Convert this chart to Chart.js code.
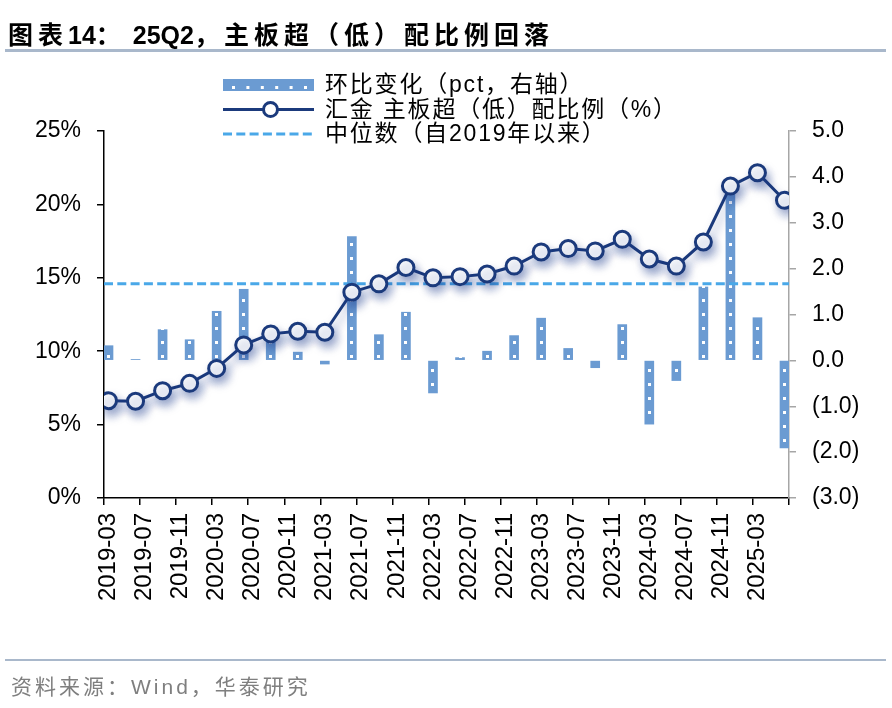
<!DOCTYPE html>
<html>
<head>
<meta charset="utf-8">
<script src="https://cdn.jsdelivr.net/npm/chart.js@4.4.1/dist/chart.umd.min.js"></script>
<style>
  html, body { margin: 0; padding: 0; background: #fff; }
  #wrap { position: relative; width: 892px; height: 708px; overflow: hidden; }
  #chart { position: absolute; left: 0; top: 0; }
  .title { position: absolute; left: 8px; top: 15px; font: bold 25px "Liberation Sans", "Noto Sans CJK SC", sans-serif; color: #000; white-space: nowrap; }
  .title .cjk { letter-spacing: 5px; }
  .rule { position: absolute; left: 5px; width: 881px; background: #a9b8cb; }
  .source { position: absolute; left: 11px; top: 670px; font: 21px "Liberation Sans", "Noto Sans CJK SC", sans-serif; letter-spacing: 3px; color: #7f7f7f; white-space: nowrap; }
</style>
</head>
<body>
<div id="wrap">
  <canvas id="chart" width="892" height="708"></canvas>
  <div class="title"><span class="cjk">图表</span>14<span class="cjk">：</span> 25Q2<span class="cjk">，主板超（低）配比例回落</span></div>
  <div class="rule" style="top:49px;height:3px;"></div>
  <div class="rule" style="top:659px;height:2px;"></div>
  <div class="source">资料来源：Wind，华泰研究</div>
</div>
<script>
// quarterly data, 2019Q1 - 2025Q2
const quarters = ['2019-03', '2019-06', '2019-09', '2019-12', '2020-03', '2020-06', '2020-09', '2020-12',
  '2021-03', '2021-06', '2021-09', '2021-12', '2022-03', '2022-06', '2022-09', '2022-12',
  '2023-03', '2023-06', '2023-09', '2023-12', '2024-03', '2024-06', '2024-09', '2024-12',
  '2025-03', '2025-06'];
// 汇金 主板超（低）配比例, %
const ratioPct = [6.63, 6.59, 7.31, 7.81, 8.83, 10.43, 11.18, 11.36, 11.29, 14.02, 14.59, 15.70,
  15.00, 15.08, 15.26, 15.80, 16.76, 16.99, 16.83, 17.62, 16.28, 15.80, 17.44, 21.25, 22.16, 20.28];
// 环比变化, pct (right axis)
const qoqChange = [0.32, 0.02, 0.67, 0.45, 1.07, 1.55, 0.75, 0.18, -0.08, 2.70, 0.56, 1.05,
  -0.71, 0.06, 0.20, 0.54, 0.92, 0.26, -0.16, 0.78, -1.39, -0.44, 1.60, 3.80, 0.93, -1.91];
// 中位数（自2019年以来）
const medianPct = 14.6;
const xTickLabels = ['2019-03', '2019-07', '2019-11', '2020-03', '2020-07', '2020-11', '2021-03',
  '2021-07', '2021-11', '2022-03', '2022-07', '2022-11', '2023-03', '2023-07', '2023-11',
  '2024-03', '2024-07', '2024-11', '2025-03'];

const seriesNames = ['环比变化（pct，右轴）', '汇金 主板超（低）配比例（%）', '中位数（自2019年以来）'];

const navy = '#1b3a7c';
const barBlue = '#6b9bd2';
const medianBlue = '#4aa8e8';
const latin = '"Liberation Sans", "Noto Sans CJK SC", sans-serif';

// months since 2019-03, the x axis runs on a monthly date scale
const monthIndex = s => (parseInt(s.slice(0, 4)) - 2019) * 12 + parseInt(s.slice(5, 7)) - 3;
const xMin = monthIndex(quarters[0]) - 0.5;
const xMax = monthIndex(quarters[quarters.length - 1]) + 0.5;
const xTickValues = xTickLabels.map(l => monthIndex(l) - 0.5).concat([xMax]);

// bar fill: blue with a column of small white dots
const tile = document.createElement('canvas');
tile.width = 9;
tile.height = 14;
const tc = tile.getContext('2d');
tc.fillStyle = barBlue;
tc.fillRect(0, 0, 9, 14);
tc.fillStyle = '#fff';
tc.fillRect(3, 9, 3, 3);

function barFill(ctx) {
  const chart = ctx.chart;
  if (ctx.type !== 'data' || !chart.scales.x) return barBlue;
  const x = chart.scales.x.getPixelForValue(monthIndex(quarters[ctx.dataIndex]));
  const y0 = chart.scales.y1.getPixelForValue(0);
  const p = chart.ctx.createPattern(tile, 'repeat');
  p.setTransform(new DOMMatrix([1, 0, 0, 1, Math.round(x - 4.5), Math.round(y0)]));
  return p;
}

const lineShadow = {
  id: 'lineShadow',
  beforeDatasetDraw(chart, args) {
    if (args.index !== 1) return;
    const c = chart.ctx;
    c.save();
    c.shadowColor = 'rgba(30, 60, 140, 0.4)';
    c.shadowBlur = 10;
    c.shadowOffsetX = 3;
    c.shadowOffsetY = 6;
  },
  afterDatasetDraw(chart, args) {
    if (args.index === 1) chart.ctx.restore();
  }
};

// legend stacked in three rows above the plot
const stackedLegend = {
  id: 'stackedLegend',
  afterDraw(chart) {
    const c = chart.ctx;
    const x0 = 223, x1 = 314, tx = 325;
    const rows = [85, 109.5, 134];
    c.save();
    // bars
    c.fillStyle = barBlue;
    c.fillRect(x0, rows[0] - 6, x1 - x0, 12);
    c.fillStyle = '#fff';
    for (let i = 0; i < 6; i++) c.fillRect(x0 + 9 + i * 14.4, rows[0] + 1, 3, 3);
    // line with marker
    c.strokeStyle = navy;
    c.lineWidth = 3;
    c.beginPath();
    c.moveTo(x0, rows[1]);
    c.lineTo(x1, rows[1]);
    c.stroke();
    c.fillStyle = '#fff';
    c.beginPath();
    c.arc((x0 + x1) / 2 + 2, rows[1], 7, 0, Math.PI * 2);
    c.fill();
    c.stroke();
    // median
    c.strokeStyle = medianBlue;
    c.setLineDash([9, 4.3]);
    c.beginPath();
    c.moveTo(x0, rows[2]);
    c.lineTo(x1, rows[2]);
    c.stroke();
    c.setLineDash([]);
    // texts
    c.fillStyle = '#000';
    c.font = '23px ' + latin;
    c.letterSpacing = '1.8px';
    c.textBaseline = 'middle';
    c.textAlign = 'left';
    seriesNames.forEach((t, i) => c.fillText(t, tx, rows[i] + 1));
    c.restore();
  }
};

new Chart(document.getElementById('chart'), {
  data: {
    datasets: [
      {
        type: 'bar',
        label: seriesNames[0],
        data: quarters.map((q, i) => ({ x: monthIndex(q), y: qoqChange[i] })),
        yAxisID: 'y1',
        backgroundColor: barFill,
        borderWidth: 0,
        barThickness: 9,
        order: 3
      },
      {
        type: 'line',
        label: seriesNames[1],
        data: quarters.map((q, i) => ({ x: monthIndex(q), y: ratioPct[i] })),
        yAxisID: 'y',
        borderColor: navy,
        borderWidth: 3,
        pointRadius: 8,
        pointBorderWidth: 3,
        pointBackgroundColor: '#fff',
        pointBorderColor: navy,
        tension: 0,
        order: 1
      },
      {
        type: 'line',
        label: seriesNames[2],
        data: [{ x: xMin, y: medianPct }, { x: xMax, y: medianPct }],
        yAxisID: 'y',
        borderColor: medianBlue,
        borderWidth: 3,
        borderDash: [9, 4.3],
        pointRadius: 0,
        order: 2
      }
    ]
  },
  options: {
    responsive: false,
    animation: false,
    layout: { padding: { top: 131, left: 0, right: 0, bottom: 80 } },
    plugins: {
      legend: { display: false },
      title: { display: false },
      tooltip: { enabled: false }
    },
    scales: {
      x: {
        type: 'linear',
        min: xMin,
        max: xMax,
        offset: false,
        afterBuildTicks: axis => { axis.ticks = xTickValues.map(v => ({ value: v })); },
        afterFit: axis => { axis.height = 130; },
        grid: { drawOnChartArea: false, drawTicks: true, tickLength: 7, color: '#000', lineWidth: 1.5, offset: false },
        border: { display: true, color: '#000', width: 1.5 },
        ticks: {
          autoSkip: false,
          minRotation: 90,
          maxRotation: 90,
          padding: 8,
          labelOffset: 4.5,
          color: '#000',
          font: { family: latin, size: 24 },
          callback: (v, i) => xTickLabels[i] || ''
        }
      },
      y: {
        position: 'left',
        min: 0,
        max: 25,
        afterFit: axis => { axis.width = 104; },
        grid: { drawOnChartArea: false, drawTicks: true, tickLength: 7, color: '#000', lineWidth: 1.5 },
        border: { display: true, color: '#000', width: 1.5 },
        ticks: {
          stepSize: 5,
          padding: 16,
          color: '#000',
          font: { family: latin, size: 23 },
          callback: v => v + '%'
        }
      },
      y1: {
        position: 'right',
        min: -3,
        max: 5,
        afterFit: axis => { axis.width = 103; },
        grid: { drawOnChartArea: false, drawTicks: true, tickLength: 7, color: '#a6a6a6', lineWidth: 1.5 },
        border: { display: true, color: '#a6a6a6', width: 1.5 },
        ticks: {
          stepSize: 1,
          padding: 16,
          color: '#000',
          font: { family: latin, size: 23 },
          callback: v => v < 0 ? '(' + Math.abs(v).toFixed(1) + ')' : v.toFixed(1)
        }
      }
    }
  },
  plugins: [lineShadow, stackedLegend]
});
</script>
</body>
</html>
